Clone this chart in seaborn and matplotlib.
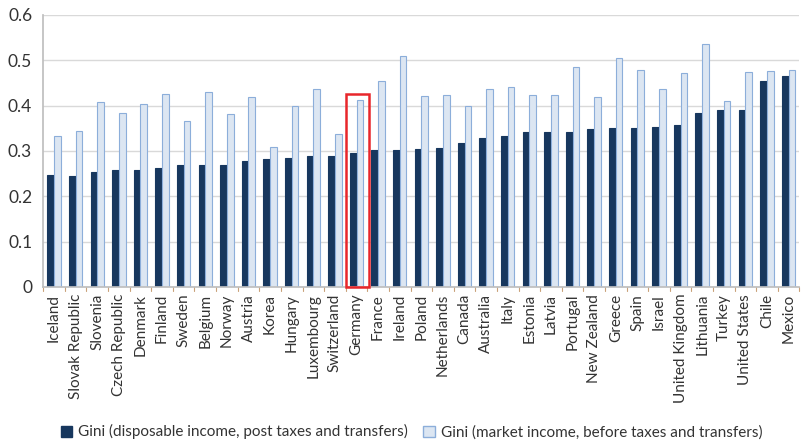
import matplotlib
matplotlib.use("Agg")
import matplotlib.pyplot as plt
from matplotlib.patches import Rectangle, Patch
import seaborn as sns
import pandas as pd

countries = [
    "Iceland", "Slovak Republic", "Slovenia", "Czech Republic", "Denmark",
    "Finland", "Sweden", "Belgium", "Norway", "Austria", "Korea", "Hungary",
    "Luxembourg", "Switzerland", "Germany", "France", "Ireland", "Poland",
    "Netherlands", "Canada", "Australia", "Italy", "Estonia", "Latvia",
    "Portugal", "New Zealand", "Greece", "Spain", "Israel", "United Kingdom",
    "Lithuania", "Turkey", "United States", "Chile", "Mexico",
]
gini_disposable = [
    0.246, 0.245, 0.253, 0.257, 0.259, 0.263, 0.268, 0.270, 0.270, 0.277,
    0.283, 0.285, 0.289, 0.289, 0.296, 0.302, 0.302, 0.304, 0.307, 0.318,
    0.329, 0.332, 0.341, 0.341, 0.341, 0.349, 0.351, 0.351, 0.352, 0.358,
    0.383, 0.391, 0.391, 0.455, 0.465,
]
gini_market = [
    0.334, 0.343, 0.408, 0.383, 0.403, 0.425, 0.366, 0.429, 0.382, 0.420,
    0.309, 0.399, 0.436, 0.338, 0.412, 0.454, 0.509, 0.422, 0.424, 0.400,
    0.436, 0.440, 0.424, 0.423, 0.486, 0.419, 0.504, 0.478, 0.436, 0.473,
    0.535, 0.411, 0.475, 0.477, 0.478,
]
series_names = [
    "Gini (disposable income, post taxes and transfers)",
    "Gini (market income, before taxes and transfers)",
]
y_ticks = [0, 0.1, 0.2, 0.3, 0.4, 0.5, 0.6]
y_tick_labels = ["0", "0.1", "0.2", "0.3", "0.4", "0.5", "0.6"]
highlight = "Germany"

df = pd.DataFrame({
    "country": countries * 2,
    "gini": gini_disposable + gini_market,
    "series": [series_names[0]] * len(countries) + [series_names[1]] * len(countries),
})

sns.set_theme(style="white")
plt.rcParams["font.family"] = ["Lato", "DejaVu Sans"]

dark = "#17375E"
light = "#DCE6F2"
light_edge = "#8CAEDA"
grid_col = "#D9D9D9"
axis_col = "#BFBFBF"
text_col = "#333333"

fig = plt.figure(figsize=(8.01, 4.40), dpi=100)
ax = fig.add_axes([0.054, 0.348, 0.944, 0.618])

sns.barplot(
    data=df, x="country", y="gini", hue="series", order=countries,
    hue_order=series_names, palette=[dark, light], width=0.62,
    saturation=1, ax=ax, legend=False,
)
for patch, edge in zip(ax.patches, [dark] * len(countries) + [light_edge] * len(countries)):
    patch.set_edgecolor(edge)
    patch.set_linewidth(0.8)

ax.set_ylim(0, 0.6)
ax.set_xlim(-0.5, len(countries) - 0.5)
ax.set_yticks(y_ticks)
ax.set_yticklabels(y_tick_labels)
ax.yaxis.grid(True, color=grid_col, linewidth=1)
ax.set_axisbelow(True)
ax.set_xlabel("")
ax.set_ylabel("")

# tick marks sit between the country groups
ax.set_xticks(range(len(countries)))
ax.set_xticklabels(countries, rotation=90, fontsize=11, color=text_col)
ax.tick_params(axis="x", length=0, pad=5)
for b in range(len(countries) + 1):
    ax.plot([b - 0.5, b - 0.5], [0, -0.008], color="#C9A27A", lw=0.8,
            clip_on=False)
ax.tick_params(axis="y", length=4, color=axis_col, labelsize=12.5,
               labelcolor=text_col, pad=4)

for side in ["top", "right"]:
    ax.spines[side].set_visible(False)
ax.spines["left"].set_color(axis_col)
ax.spines["bottom"].set_color(axis_col)

# frame around the highlighted country
gi = countries.index(highlight)
ax.add_patch(Rectangle((gi - 0.5, -0.001), 1.1, 0.4255, fill=False,
                       edgecolor="#E8262B", linewidth=1.8, clip_on=False,
                       zorder=5))

handles = [
    Patch(facecolor=dark, edgecolor=dark),
    Patch(facecolor=light, edgecolor=light_edge),
]
fig.legend(handles, series_names, loc="lower center",
           bbox_to_anchor=(0.514, -0.03), ncol=2, frameon=False,
           fontsize=11, handlelength=0.75, handleheight=0.75,
           handletextpad=0.4, columnspacing=1.0, labelcolor=text_col)

fig.savefig("out.png", dpi=100)
